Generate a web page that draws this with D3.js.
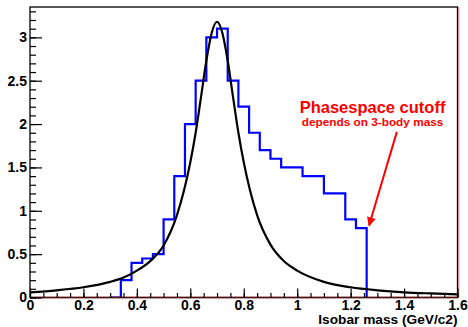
<!DOCTYPE html>
<html>
<head>
<meta charset="utf-8">
<script src="https://cdn.jsdelivr.net/npm/d3@7"></script>
<style>
  html, body { margin: 0; padding: 0; background: #fff; }
  svg { display: block; }
  text { font-family: "Liberation Sans", Arial, Helvetica, sans-serif; font-weight: bold; }
</style>
</head>
<body>
<div id="chart"></div>
<script>
// histogram bins (isobar mass, GeV/c2)
const binEdges = [0.30, 0.34, 0.38, 0.42, 0.46, 0.50, 0.54, 0.58, 0.62, 0.66, 0.70, 0.74,
                  0.78, 0.82, 0.86, 0.90, 0.94, 0.98, 1.02, 1.06, 1.10, 1.14, 1.18, 1.22, 1.26];
const binCounts = [0, 0.2, 0.4, 0.45, 0.5, 0.9, 1.4, 2.0, 2.5, 3.0, 3.1, 2.5,
                   2.2, 1.9, 1.7, 1.6, 1.5, 1.5, 1.4, 1.4, 1.2, 1.2, 0.9, 0.8];

// black line
const curveX = [0, 0.1, 0.2, 0.3, 0.35, 0.4, 0.45, 0.5, 0.55, 0.6, 0.62, 0.64, 0.66, 0.68, 0.7,
                0.72, 0.74, 0.76, 0.78, 0.8, 0.85, 0.9, 0.95, 1.0, 1.1, 1.2, 1.3, 1.4, 1.5, 1.6];
const curveY = [0.06, 0.083, 0.118, 0.18, 0.23, 0.31, 0.42, 0.6, 0.95, 1.56, 1.9, 2.31, 2.73, 3.05, 3.18,
                3.05, 2.73, 2.31, 1.9, 1.56, 0.95, 0.61, 0.42, 0.31, 0.18, 0.118, 0.083, 0.06, 0.047, 0.037];

const xMajor = [0, 0.2, 0.4, 0.6, 0.8, 1, 1.2, 1.4, 1.6];
const xMinor = d3.range(0, 1.6001, 0.05);
const yMajor = [0, 0.5, 1, 1.5, 2, 2.5, 3];
const yMinor = d3.range(0, 3.3001, 0.1);

const W = 468, H = 327;
const frame = { left: 30, right: 457.5, top: 7, bottom: 297.5 };

const svg = d3.select("#chart").append("svg")
  .attr("width", W)
  .attr("height", H);

const x = d3.scaleLinear().domain([0, 1.6]).range([frame.left, frame.right]);
const y = d3.scaleLinear().domain([0, 3.35]).range([frame.bottom, frame.top]);

svg.append("defs").append("clipPath").attr("id", "clip")
  .append("rect")
    .attr("x", frame.left).attr("y", frame.top)
    .attr("width", frame.right - frame.left)
    .attr("height", frame.bottom - frame.top);

// histogram as step line
const histPts = binCounts.map((c, i) => [binEdges[i], c]);
histPts.push([binEdges[binEdges.length - 1], 0]);

svg.append("path")
  .datum(histPts)
  .attr("clip-path", "url(#clip)")
  .attr("fill", "none")
  .attr("stroke", "#0000ff")
  .attr("stroke-width", 2.2)
  .attr("d", d3.line().x(d => x(d[0])).y(d => y(d[1])).curve(d3.curveStepAfter));

// curve
svg.append("path")
  .datum(curveX.map((v, i) => [v, curveY[i]]))
  .attr("clip-path", "url(#clip)")
  .attr("fill", "none")
  .attr("stroke", "#000")
  .attr("stroke-width", 2.2)
  .attr("d", d3.line().x(d => x(d[0])).y(d => y(d[1])).curve(d3.curveMonotoneX));

// frame
svg.append("rect")
  .attr("x", frame.left).attr("y", frame.top)
  .attr("width", frame.right - frame.left)
  .attr("height", frame.bottom - frame.top)
  .attr("fill", "none")
  .attr("stroke", "#000")
  .attr("stroke-width", 1.3);
svg.append("line")
  .attr("x1", frame.right + 1.3).attr("x2", frame.right + 1.3)
  .attr("y1", frame.top).attr("y2", frame.bottom)
  .attr("stroke", "#e07070").attr("stroke-width", 1);
svg.append("line")
  .attr("x1", frame.left).attr("x2", frame.right)
  .attr("y1", frame.bottom).attr("y2", frame.bottom)
  .attr("stroke", "#5a0a0a").attr("stroke-width", 1.3);

// axes, ticks inside the frame
function styleAxis(g) {
  g.select(".domain").remove();
  g.selectAll("line").attr("stroke", "#000").attr("stroke-width", 1.2);
  g.selectAll("text").attr("fill", "#000").style("font-size", "14px");
}

svg.append("g")
  .attr("transform", `translate(0,${frame.bottom})`)
  .call(d3.axisBottom(x).tickValues(xMinor).tickSize(-4.5).tickFormat(""))
  .call(styleAxis);
svg.append("g")
  .attr("transform", `translate(0,${frame.bottom})`)
  .call(d3.axisBottom(x).tickValues(xMajor).tickSize(-9).tickPadding(3).tickFormat(d3.format("~g")))
  .call(styleAxis);

svg.append("g")
  .attr("transform", `translate(${frame.left},0)`)
  .call(d3.axisLeft(y).tickValues(yMinor).tickSize(-6).tickFormat(""))
  .call(styleAxis);
svg.append("g")
  .attr("transform", `translate(${frame.left},0)`)
  .call(d3.axisLeft(y).tickValues(yMajor).tickSize(-12).tickPadding(3).tickFormat(d3.format("~g")))
  .call(styleAxis);

// axis title
svg.append("text")
  .attr("x", frame.right)
  .attr("y", 324)
  .attr("text-anchor", "end")
  .style("font-size", "13.7px")
  .text("Isobar mass (GeV/c2)");

// annotation
svg.append("defs").append("marker")
  .attr("id", "head")
  .attr("viewBox", "0 0 10 10")
  .attr("refX", 9).attr("refY", 5)
  .attr("markerWidth", 6).attr("markerHeight", 4.5)
  .attr("markerUnits", "strokeWidth")
  .attr("orient", "auto")
  .append("path")
    .attr("d", "M0,0 L10,5 L0,10 z")
    .attr("fill", "#ff0000");

svg.append("line")
  .attr("x1", x(1.373)).attr("y1", y(1.91))
  .attr("x2", x(1.269)).attr("y2", y(0.83))
  .attr("stroke", "#ff0000")
  .attr("stroke-width", 2)
  .attr("marker-end", "url(#head)");

svg.append("text")
  .attr("x", x(1.282)).attr("y", y(2.13))
  .attr("text-anchor", "middle")
  .attr("fill", "#ff0000")
  .style("font-size", "16.5px")
  .text("Phasespace cutoff");

svg.append("text")
  .attr("x", x(1.282)).attr("y", y(1.975))
  .attr("text-anchor", "middle")
  .attr("fill", "#ff0000")
  .style("font-size", "11.8px")
  .text("depends on 3-body mass");
</script>
</body>
</html>
